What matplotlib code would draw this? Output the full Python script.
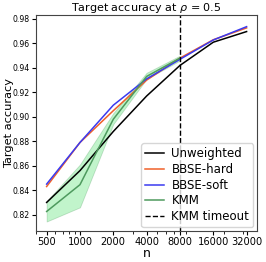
import numpy as np
import matplotlib
matplotlib.use("Agg")
import matplotlib.pyplot as plt  # noqa: E402

# sample sizes and target accuracy
N_ALL = [500, 1000, 2000, 4000, 8000, 16000, 32000]
UNWEIGHTED = [0.830, 0.856, 0.888, 0.917, 0.942, 0.961, 0.9697]
BBSE_HARD = [0.843, 0.879, 0.905, 0.930, 0.948, 0.963, 0.9727]
BBSE_SOFT = [0.845, 0.879, 0.9095, 0.931, 0.947, 0.9628, 0.9737]
N_KMM = [500, 1000, 2000, 4000, 8000]
KMM = [0.8226, 0.8445, 0.898, 0.933, 0.948]
KMM_LO = [0.8144, 0.826, 0.894, 0.931, 0.946]
KMM_HI = [0.831, 0.861, 0.903, 0.936, 0.950]
TIMEOUT_N = 8000
TICKS = [500, 1000, 2000, 4000, 8000, 16000, 32000]

fig, ax = plt.subplots(figsize=(2.66, 2.62), dpi=100)
ax.plot(N_ALL, UNWEIGHTED, color="black", lw=1.1, label="Unweighted")
ax.plot(N_ALL, BBSE_HARD, color="#f0602a", lw=1.1, label="BBSE-hard")
ax.plot(N_ALL, BBSE_SOFT, color="#3a3af0", lw=1.1, label="BBSE-soft")
ax.plot(N_KMM, KMM, color="#4e9a5e", lw=1.1, label="KMM")
ax.fill_between(N_KMM, KMM_LO, KMM_HI, color="#33dd55", alpha=0.3, lw=0.6,
                edgecolor="#4e9a5e")
ax.axvline(TIMEOUT_N, color="black", ls="--", lw=1.0, label="KMM timeout")

ax.set_xscale("log")
ax.set_xticks(TICKS)
ax.set_xticklabels([str(t) for t in TICKS], fontsize=7.1)
ax.set_xlim(400, 39700)
ax.set_ylim(0.807, 0.9833)
ax.set_yticks([0.82, 0.84, 0.86, 0.88, 0.90, 0.92, 0.94, 0.96, 0.98])
ax.tick_params(axis="y", labelsize=5.6, pad=1.5, length=3)
ax.tick_params(axis="x", which="major", pad=1.5, length=3)
ax.tick_params(axis="x", which="minor", length=1.8)
ax.set_xlabel("n", fontsize=9, labelpad=0)
ax.set_ylabel("Target accuracy", fontsize=8.2)
ax.yaxis.set_label_coords(-0.1, 0.5)
ax.set_title(r"Target accuracy at $\rho$ = 0.5", fontsize=8, pad=2)
for s in ax.spines.values():
    s.set_color("#444444")
ax.legend(loc="lower right", fontsize=8.5, handlelength=1.6,
          handletextpad=0.6, borderpad=0.35, labelspacing=0.22,
          borderaxespad=0.3)

fig.subplots_adjust(left=0.135, right=0.966, top=0.943, bottom=0.12)
fig.savefig("out.png", dpi=100)
